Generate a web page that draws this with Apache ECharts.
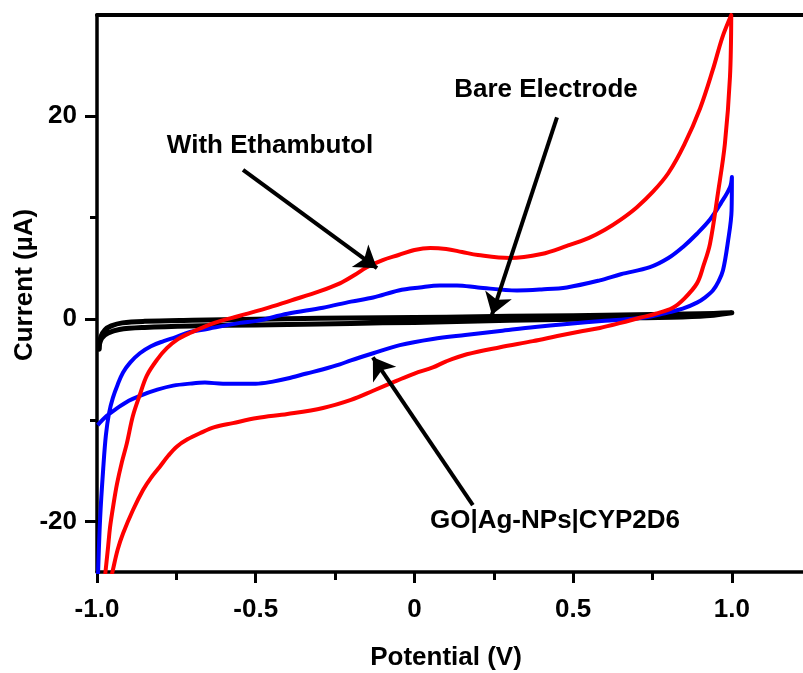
<!DOCTYPE html>
<html>
<head>
<meta charset="utf-8">
<script src="https://cdn.jsdelivr.net/npm/echarts@6/dist/echarts.min.js"></script>
<style>
html,body{margin:0;padding:0;background:#fff;}
#chart{width:803px;height:673px;}
</style>
</head>
<body>
<div id="chart"></div>
<script>
// ---- Data (potential V, current µA) ----
const redX = [-0.975,-0.965,-0.959,-0.948,-0.937,-0.922,-0.906,-0.887,-0.865,-0.843,-0.81,-0.78,-0.745,-0.707,-0.63,-0.55,-0.47,-0.39,-0.3,-0.235,-0.19,-0.15,-0.1,-0.05,0.0,0.05,0.1,0.15,0.2,0.3,0.4,0.48,0.55,0.6,0.65,0.7,0.75,0.8,0.85,0.9,0.94,0.97,0.998,
  0.994,0.978,0.956,0.931,0.91,0.89,0.85,0.814,0.76,0.71,0.65,0.584,0.53,0.45,0.373,0.27,0.165,0.1,0.058,0.0,-0.055,-0.13,-0.2,-0.288,-0.4,-0.496,-0.572,-0.63,-0.676,-0.715,-0.748,-0.775,-0.802,-0.83,-0.855,-0.887,-0.918,-0.935,-0.95,-0.955];
const redY = [-25.5,-22.5,-20.6,-18.3,-16.3,-14.2,-12.3,-9.6,-7.5,-5.6,-4.0,-2.9,-2.0,-1.4,-0.4,0.3,1.0,1.8,2.7,3.5,4.3,5.1,5.8,6.3,6.8,7.0,6.9,6.6,6.3,6.0,6.4,7.2,8.0,8.8,9.8,11.0,12.5,14.4,17.2,20.8,24.6,27.8,30.0,
  23.9,17.3,12.4,7.4,5.2,3.5,2.0,1.1,0.5,0.1,-0.4,-0.9,-1.2,-1.7,-2.2,-2.8,-3.5,-4.2,-4.8,-5.4,-6.1,-7.1,-8.0,-8.8,-9.4,-9.8,-10.3,-10.7,-11.3,-11.9,-12.6,-13.5,-14.6,-15.7,-16.9,-18.9,-21.2,-22.8,-24.8,-25.5];

const blueX = [-0.997,-0.99,-0.98,-0.972,-0.962,-0.95,-0.935,-0.918,-0.895,-0.865,-0.83,-0.79,-0.76,-0.707,-0.653,-0.55,-0.496,-0.4,-0.288,-0.2,-0.13,-0.05,0.017,0.08,0.134,0.2,0.323,0.4,0.48,0.584,0.65,0.742,0.8,0.846,0.89,0.931,0.965,0.994,1.0,
  0.999,0.987,0.972,0.958,0.94,0.915,0.89,0.845,0.795,0.74,0.688,0.6,0.48,0.38,0.27,0.16,0.058,-0.046,-0.13,-0.2,-0.235,-0.29,-0.34,-0.4,-0.446,-0.5,-0.55,-0.603,-0.66,-0.707,-0.76,-0.81,-0.865,-0.9,-0.94,-0.97,-0.998];
const blueY = [-25.5,-19.6,-14.6,-11.5,-9.3,-7.8,-6.5,-5.3,-4.3,-3.4,-2.7,-2.2,-1.9,-1.3,-1.0,-0.4,-0.2,0.5,1.1,1.7,2.1,2.8,3.1,3.3,3.3,3.1,2.8,2.9,3.1,3.8,4.4,5.1,6.0,7.1,8.4,9.8,11.4,13.0,14.0,
  10.7,7.5,4.8,3.7,2.8,2.1,1.6,1.0,0.6,0.2,0.0,-0.2,-0.5,-0.8,-1.2,-1.6,-2.0,-2.6,-3.4,-4.1,-4.5,-5.0,-5.4,-5.9,-6.2,-6.4,-6.4,-6.4,-6.3,-6.4,-6.6,-7.0,-7.6,-8.1,-8.9,-9.6,-10.5];

const blackX = [-0.993,-0.988,-0.975,-0.955,-0.92,-0.85,-0.7,-0.5,-0.3,-0.1,0.1,0.3,0.5,0.7,0.9,1.0,
  0.9,0.7,0.5,0.3,0.1,-0.1,-0.3,-0.5,-0.7,-0.85,-0.93,-0.965,-0.985,-0.995];
const blackY = [-3.0,-1.8,-1.1,-0.7,-0.4,-0.25,-0.15,-0.05,0.05,0.1,0.15,0.25,0.3,0.4,0.5,0.6,
  0.25,0.1,-0.05,-0.15,-0.3,-0.4,-0.5,-0.6,-0.7,-0.85,-1.05,-1.4,-1.9,-2.9];

const xMajorTicks = [-1.0,-0.5,0,0.5,1.0];
const xMinorTicks = [-0.75,-0.25,0.25,0.75];
const yMajorTicks = [-20,0,20];
const yMinorTicks = [-10,10];

// arrows [startX, startY, endX, endY] in data units
const arrowEthambutol = [-0.540,14.7,-0.118,5.0];
const arrowBare = [0.449,19.9,0.244,0.4];
const arrowGO = [0.184,-18.4,-0.131,-3.8];

const zip = (xs, ys) => xs.map((x, i) => [x, ys[i]]);
const FONT = 'Liberation Sans, Arial, sans-serif';
const chart = echarts.init(document.getElementById('chart'), null, {renderer: 'canvas'});

const arrowItem = a => [{coord: [a[0], a[1]], symbol: 'none'}, {coord: [a[2], a[3]], symbol: 'arrow', symbolSize: 21}];

chart.setOption({
  animation: false,
  backgroundColor: '#fff',
  grid: {left: 97, right: 0, top: 15, bottom: 101, containLabel: false},
  xAxis: [
    {type: 'value', min: -1, max: 1.224, position: 'bottom',
     axisLine: {show: true, onZero: false, lineStyle: {color: '#000', width: 3.5}},
     axisTick: {show: true, customValues: xMajorTicks, length: 11, lineStyle: {color: '#000', width: 3}},
     axisLabel: {show: true, customValues: xMajorTicks, margin: 25, color: '#000', fontSize: 26, fontWeight: 'bold', fontFamily: FONT,
                 formatter: v => (v === 0 ? '0' : v.toFixed(1))},
     splitLine: {show: false}},
    {type: 'value', min: -1, max: 1.224, position: 'bottom',
     axisLine: {show: false, onZero: false},
     axisTick: {show: true, customValues: xMinorTicks, length: 8, lineStyle: {color: '#000', width: 3}},
     axisLabel: {show: false}, splitLine: {show: false}},
    {type: 'value', min: -1, max: 1.224, position: 'top',
     axisLine: {show: true, onZero: false, lineStyle: {color: '#000', width: 4}},
     axisTick: {show: false}, axisLabel: {show: false}, splitLine: {show: false}}
  ],
  yAxis: [
    {type: 'value', min: -25, max: 30, position: 'left',
     axisLine: {show: true, onZero: false, lineStyle: {color: '#000', width: 3.5}},
     axisTick: {show: true, customValues: yMajorTicks, length: 12, lineStyle: {color: '#000', width: 3}},
     axisLabel: {show: true, customValues: yMajorTicks, margin: 20, color: '#000', fontSize: 26, fontWeight: 'bold', fontFamily: FONT},
     splitLine: {show: false}},
    {type: 'value', min: -25, max: 30, position: 'left',
     axisLine: {show: false, onZero: false},
     axisTick: {show: true, customValues: yMinorTicks, length: 7, lineStyle: {color: '#000', width: 3}},
     axisLabel: {show: false}, splitLine: {show: false}}
  ],
  series: [
    {name: 'Bare Electrode', type: 'line', data: zip(blackX, blackY), showSymbol: false, smooth: 0.35,
     lineStyle: {color: '#000', width: 5, cap: 'round', join: 'round'}, z: 2},
    {name: 'GO|Ag-NPs|CYP2D6', type: 'line', data: zip(blueX, blueY), showSymbol: false, smooth: 0.35,
     lineStyle: {color: '#0000ff', width: 4, join: 'round'}, z: 3},
    {name: 'With Ethambutol', type: 'line', data: zip(redX, redY), showSymbol: false, smooth: 0.35,
     lineStyle: {color: '#ff0000', width: 4, join: 'round'}, z: 4},
    {name: 'arrows', type: 'line', data: [], z: 10,
     markLine: {silent: true, animation: false,
       lineStyle: {color: '#000', width: 4, type: 'solid'},
       label: {show: false},
       emphasis: {disabled: true},
       data: [arrowItem(arrowEthambutol), arrowItem(arrowBare), arrowItem(arrowGO)]}}
  ],
  graphic: [
    {type: 'text', x: 25, y: 285, rotation: Math.PI / 2,
     style: {text: 'Current (µA)', font: 'bold 26px ' + FONT, fill: '#000', align: 'center', verticalAlign: 'middle'}},
    {type: 'text', x: 446, y: 658,
     style: {text: 'Potential (V)', font: 'bold 26px ' + FONT, fill: '#000', align: 'center', verticalAlign: 'middle'}},
    {type: 'text', x: 270, y: 146, z: 20,
     style: {text: 'With Ethambutol', font: 'bold 26px ' + FONT, fill: '#000', align: 'center', verticalAlign: 'middle'}},
    {type: 'text', x: 546, y: 90, z: 20,
     style: {text: 'Bare Electrode', font: 'bold 26px ' + FONT, fill: '#000', align: 'center', verticalAlign: 'middle'}},
    {type: 'text', x: 555, y: 521, z: 20,
     style: {text: 'GO|Ag-NPs|CYP2D6', font: 'bold 26px ' + FONT, fill: '#000', align: 'center', verticalAlign: 'middle'}}
  ]
});
</script>
</body>
</html>
